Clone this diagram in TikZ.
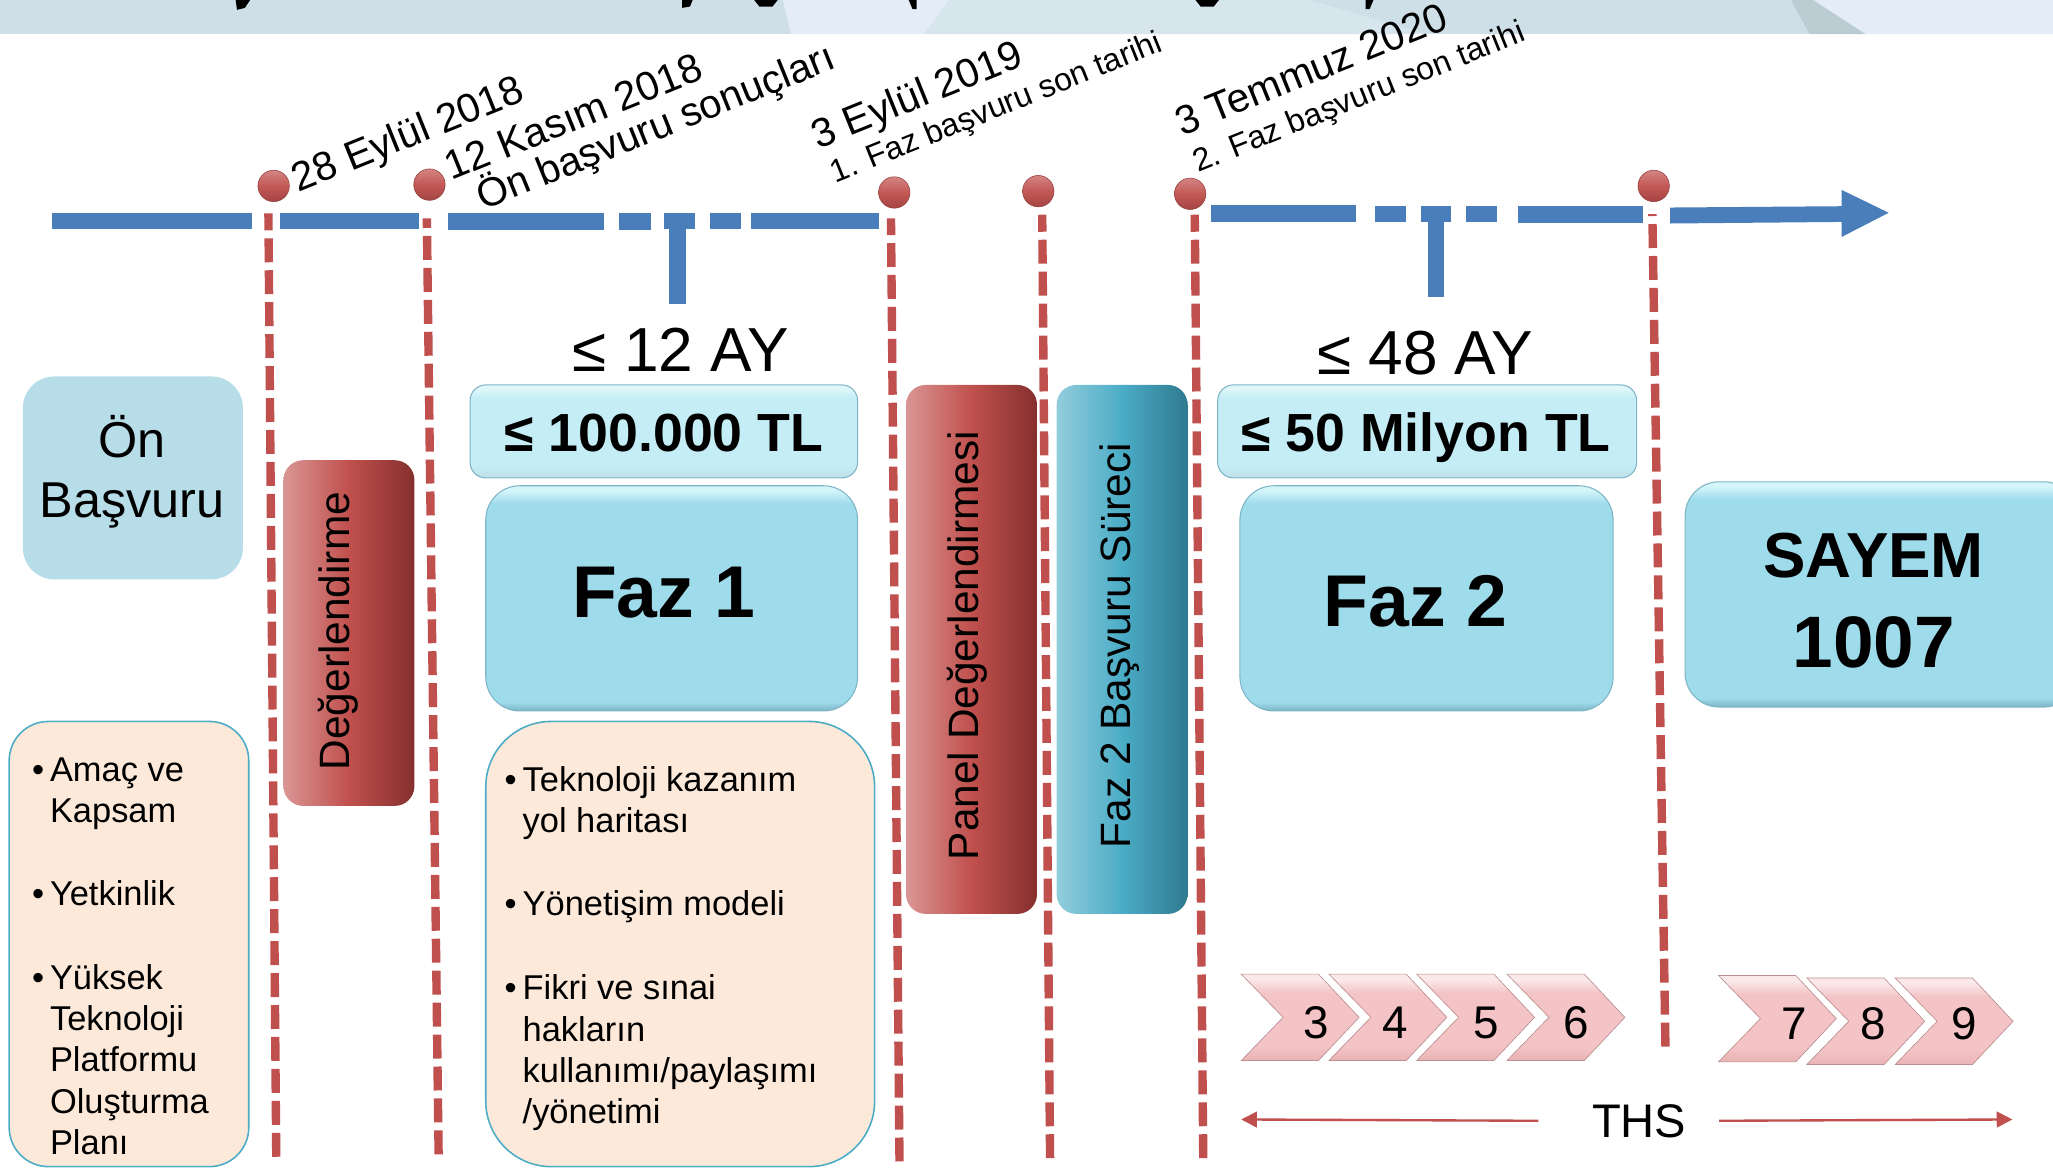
\documentclass[tikz,border=0pt]{standalone}
\usepackage{fontspec}
\setmainfont{Liberation Sans}
\usetikzlibrary{shapes.geometric,arrows.meta}
\definecolor{bandA}{HTML}{CFDFE7}
\definecolor{bandB}{HTML}{E4ECF8}
\definecolor{bandC}{HTML}{D7E5EC}
\definecolor{bandD}{HTML}{BBCDD2}
\definecolor{tblue}{HTML}{4A7EBB}
\definecolor{tred}{HTML}{C0504D}
\definecolor{peach}{HTML}{FDE9D9}
\definecolor{peachline}{HTML}{4BACC6}
\definecolor{onbox}{HTML}{B7DDE8}
\definecolor{bevTop}{HTML}{D4F5FA}
\definecolor{bevMain}{HTML}{9EDBEB}
\definecolor{bevBot}{HTML}{7DB4C6}
\definecolor{palTop}{HTML}{DFF7FA}
\definecolor{palMain}{HTML}{C5EDF5}
\definecolor{palBot}{HTML}{BFE0EA}
\definecolor{chevTop}{HTML}{FBE9E9}
\definecolor{chevMain}{HTML}{F3C3C5}
\definecolor{chevBot}{HTML}{E9B3B5}
\definecolor{redL}{HTML}{D99694}
\definecolor{redR}{HTML}{85302E}
\definecolor{tealL}{HTML}{92CDDC}
\definecolor{tealR}{HTML}{2F7A8F}
\pgfdeclareverticalshading{bevelbig}{100bp}{color(0bp)=(bevBot); color(25bp)=(bevBot); color(27bp)=(bevMain); color(71bp)=(bevMain); color(74bp)=(bevTop); color(100bp)=(bevTop)}
\pgfdeclareverticalshading{bevelpale}{100bp}{color(0bp)=(palBot); color(25bp)=(palBot); color(32bp)=(palMain); color(68bp)=(palMain); color(73bp)=(palTop); color(100bp)=(palTop)}
\pgfdeclareverticalshading{bevelchev}{100bp}{color(0bp)=(chevBot); color(25bp)=(chevBot); color(33bp)=(chevMain); color(64bp)=(chevMain); color(72bp)=(chevTop); color(100bp)=(chevTop)}
\newcommand{\fs}[1]{\fontsize{#1}{#1}\selectfont}
\newcommand{\bul}{\llap{•\hspace{4.5pt}}}
\tikzset{
  x=1pt,y=-1pt,
  tline/.style={fill=tblue,draw=none},
  rdash/.style={draw=tred,line width=6.4pt,dash pattern=on 18.3pt off 6.1pt},
  dotred/.style={ellipse,minimum width=24pt,minimum height=24pt,inner sep=0pt,top color=tred!70!white,bottom color=tred!85!black,middle color=tred!95!white,draw=tred!75!black,line width=.4pt},
  bigbox/.style={rectangle,rounded corners=26pt,shading=bevelbig,draw=bevBot,line width=.8pt,inner sep=0pt},
  palebox/.style={rectangle,rounded corners=12pt,shading=bevelpale,draw=bevBot,line width=.8pt,inner sep=0pt},
  redbar/.style={rectangle,rounded corners=15pt,inner sep=0pt,left color=redL,right color=redR,middle color=tred},
  tealbar/.style={rectangle,rounded corners=15pt,inner sep=0pt,left color=tealL,right color=tealR,middle color=peachline},
  peachbox/.style={rectangle,fill=peach,draw=peachline,line width=1.2pt,inner sep=0pt},
  txt/.style={inner sep=0pt,text=black},
  date/.style={txt,anchor=base west,rotate=22},
  listtxt/.style={txt,anchor=base west,font=\fontsize{26.3}{31.6}\selectfont},
  thsline/.style={draw=tred,line width=1.8pt,-{Triangle[length=12pt,width=12pt]}},
  chevshape/.style={shading=bevelchev,draw=chevBot!80!black,line width=.5pt},
  chevnum/.style={txt,font=\fs{35}}
}
\newcommand{\chev}[2]{\path[chevshape] (#1,#2) -- ++(59,0) -- ++(31,33) -- ++(-31,33) -- ++(-59,0) -- ++(32,-33) -- cycle;}
\begin{document}
\begin{tikzpicture}
\useasboundingbox (0,0) rectangle (1568,892);
% band
\fill[bandA] (0,0) rectangle (1568,26);
\fill[bandB] (598,0) -- (725,0) -- (706,26) -- (604,26) -- cycle;
\fill[bandC] (725,0) -- (860,0) -- (850,26) -- (706,26) -- cycle;
\fill[bandC] (860,0) -- (1000,0) -- (1090,26) -- (850,26) -- cycle;
\fill[bandD] (1368,0) -- (1385,0) -- (1425,26) -- (1382,26) -- cycle;
\fill[bandB] (1385,0) -- (1568,0) -- (1568,26) -- (1425,26) -- cycle;
% clipped title descenders
\fill[black] (180,0) -- (191,0) -- (187,6) -- (181,7.5) -- cycle;
\fill[black] (521,0) -- (529,0) -- (527,5) -- (521,6) -- cycle;
\fill[black] (576,0) -- (594,0) -- (590,5) -- (580,5) -- cycle;
\fill[black] (694,0) -- (700,0) -- (700,7) -- (697,7) -- cycle;
\fill[black] (913,0) -- (931,0) -- (927,5) -- (917,5) -- cycle;
\fill[black] (1043,0) -- (1049,0) -- (1046,7) -- (1043,7) -- cycle;
% dashed verticals
\draw[rdash,dash phase=5.4pt] (205,163) -- (211,885);
\draw[rdash,dash phase=11pt] (326,166.8) -- (335,882);
\draw[rdash,dash phase=5.6pt] (680.5,166.8) -- (687,888);
\draw[rdash,dash phase=5.3pt] (796,164) -- (802,885);
\draw[rdash,dash phase=5.3pt] (912.5,164) -- (919,885);
\draw[rdash,dash phase=16.8pt] (1262,163.5) -- (1272,800);
% timeline
\fill[tline] (39.6,162.6) rectangle (192.7,175);
\fill[tline] (214,162.6) rectangle (320,175);
\fill[tline] (342,163) rectangle (461,175.3);
\fill[tline] (473,163) rectangle (497,175.3);
\fill[tline] (507,163) rectangle (531,175);
\fill[tline] (511,175) rectangle (524,232);
\fill[tline] (542,163) rectangle (566,175);
\fill[tline] (573.5,162.6) rectangle (671,175);
\fill[tline] (925,156.6) rectangle (1036,169.3);
\fill[tline] (1050,157) rectangle (1074,169.3);
\fill[tline] (1085,157) rectangle (1108,169.3);
\fill[tline] (1091,169) rectangle (1103,227);
\fill[tline] (1119.5,157) rectangle (1143,169.3);
\fill[tline] (1159,157.5) rectangle (1254.6,170);
\fill[tline] (1275.5,158.5) -- (1406.5,157.5) -- (1406.5,145) -- (1442.5,162.5) -- (1406.5,181) -- (1406.5,169.5) -- (1275.5,170.7) -- cycle;
% dots
\node[dotred] (d1) at (209,142) {};
\node[dotred] (d2) at (328,141) {};
\node[dotred] (d3) at (683,147) {};
\node[dotred] (d4) at (793,146) {};
\node[dotred] (d5) at (909,148) {};
\node[dotred] (d6) at (1263,142) {};
% dates
\node[date,font=\fs{31}] (t1) at (228,147) {28 Eylül 2018};
\node[date,font=\fs{31}] (t2) at (345,138) {12 Kasım 2018};
\node[date,font=\fs{30.7}] (t3) at (369,161) {Ön başvuru sonuçları};
\node[date,font=\fs{31}] (t4) at (625,114) {3 Eylül 2019};
\node[date,font=\fs{24.5}] (t5) at (638,140) {1. Faz başvuru son tarihi};
\node[date,font=\fs{31}] (t6) at (903,104) {3 Temmuz 2020};
\node[date,font=\fs{24.5}] (t7) at (915,132) {2. Faz başvuru son tarihi};
% durations
\node[txt,font=\fs{47.5}] (ay1) at (520,267) {≤ 12 AY};
\node[txt,font=\fs{47.5}] (ay2) at (1088.5,270) {≤ 48 AY};
% on basvuru
\node[rectangle,fill=onbox,rounded corners=24pt,minimum width=168pt,minimum height=155pt,inner sep=0pt] (on) at (101.5,365) {};
\node[txt,font=\fontsize{38.5}{46}\selectfont,align=center] (ontxt) at (101,360) {Ön\\Başvuru};
% bars
\node[redbar,minimum width=100pt,minimum height=264pt] (deg) at (266.5,483.5) {};
\node[txt,rotate=90,font=\fs{32.4}] (degtxt) at (258,482) {Değerlendirme};
\node[redbar,minimum width=100pt,minimum height=404pt] (pan) at (742,496) {};
\node[txt,rotate=90,font=\fs{32.4}] (pantxt) at (739,493) {Panel Değerlendirmesi};
\node[tealbar,minimum width=100pt,minimum height=404pt] (f2s) at (857,496) {};
\node[txt,rotate=90,font=\fs{32.4}] (f2stxt) at (855,493) {Faz 2 Başvuru Süreci};
% budget boxes
\node[palebox,minimum width=296pt,minimum height=71pt] (b1) at (507,329.5) {};
\node[txt,font=\bfseries\fs{41}] (b1t) at (507,331) {≤ 100.000 TL};
\node[palebox,minimum width=320pt,minimum height=71pt] (b2) at (1090,329.5) {};
\node[txt,font=\bfseries\fs{41}] (b2t) at (1089,334) {≤ 50 Milyon TL};
% phases
\node[bigbox,minimum width=284pt,minimum height=172pt] (f1) at (513,457) {};
\node[txt,font=\bfseries\fs{56}] (f1t) at (507,453) {Faz 1};
\node[bigbox,minimum width=285pt,minimum height=172pt] (f2) at (1089.5,457) {};
\node[txt,font=\bfseries\fs{56}] (f2t) at (1081,459) {Faz 2};
\node[bigbox,minimum width=300pt,minimum height=172pt] (say) at (1437,454) {};
\node[txt,font=\bfseries\fs{48.6}] (sayt) at (1431,424) {SAYEM};
\node[txt,font=\bfseries\fs{55.7}] (sayn) at (1431,491) {1007};
% peach
\node[peachbox,rounded corners=30pt,minimum width=183pt,minimum height=340pt] (p1) at (98.5,721) {};
\node[peachbox,rounded corners=50pt,minimum width=297pt,minimum height=340pt] (p2) at (519.5,721) {};
\node[listtxt] (l1) at (38,596.5) {\vtop{\hbox{\bul Amaç ve}\hbox{Kapsam}}};
\node[listtxt] (l2) at (38,691.5) {\vtop{\hbox{\bul Yetkinlik}}};
\node[listtxt] (l3) at (38,755.5) {\vtop{\hbox{\bul Yüksek}\hbox{Teknoloji}\hbox{Platformu}\hbox{Oluşturma}\hbox{Planı}}};
\node[listtxt] (r1) at (399,604.5) {\vtop{\hbox{\bul Teknoloji kazanım}\hbox{yol haritası}}};
\node[listtxt] (r2) at (399,699.5) {\vtop{\hbox{\bul Yönetişim modeli}}};
\node[listtxt] (r3) at (399,763.5) {\vtop{\hbox{\bul Fikri ve sınai}\hbox{hakların}\hbox{kullanımı/paylaşımı}\hbox{/yönetimi}}};
% chevrons
\chev{948}{744}\chev{1015}{744}\chev{1082}{744}\chev{1151}{744}
\chev{1312.5}{745}\chev{1380}{747}\chev{1447.5}{747}
\node[chevnum] (c3) at (1005,781) {3};
\node[chevnum] (c4) at (1065.5,781) {4};
\node[chevnum] (c5) at (1135,781) {5};
\node[chevnum] (c6) at (1204,781) {6};
\node[chevnum] (c7) at (1370,782) {7};
\node[chevnum] (c8) at (1431,782) {8};
\node[chevnum] (c9) at (1500,782) {9};
% THS
\node[txt,font=\fs{36}] (ths) at (1252,856) {THS};
\coordinate (thsL) at (948,855);
\coordinate (thsLs) at (1175,856);
\coordinate (thsR) at (1537,855);
\coordinate (thsRs) at (1313,856);
\draw[thsline] (thsLs) -- (thsL);
\draw[thsline] (thsRs) -- (thsR);
\end{tikzpicture}
\end{document}
